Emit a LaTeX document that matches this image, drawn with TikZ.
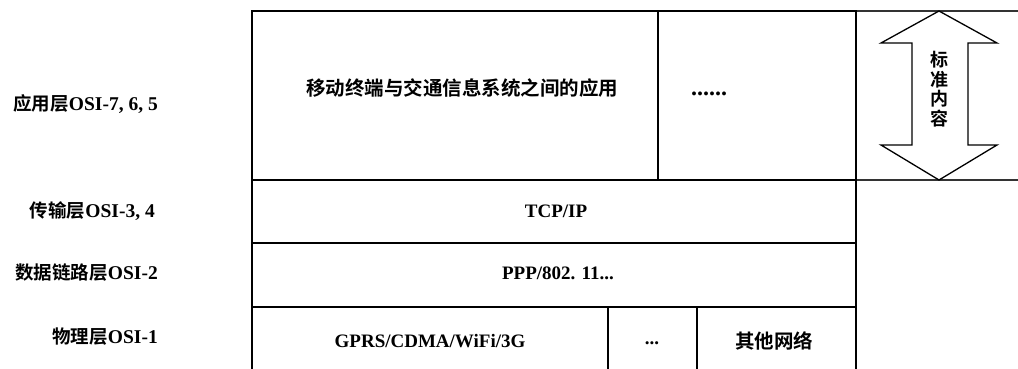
\documentclass[tikz,border=0pt]{standalone}
\usepackage{fontspec}
\setmainfont{Liberation Serif}
\newfontfamily\cjk{Noto Sans CJK SC}[BoldFont={Noto Sans CJK SC Bold}]
\begin{document}
\begin{tikzpicture}[x=1pt,y=-1pt,
  box/.style={draw=black,line width=2.8pt,inner sep=0pt,font=\bfseries\fontsize{19}{21}\selectfont},
  txt/.style={inner sep=0pt,font=\bfseries\fontsize{19}{21}\selectfont},
  lbl/.style={anchor=east,inner sep=0pt,font=\bfseries\fontsize{19.5}{21}\selectfont},
  thin/.style={draw=black!80,line width=1.3pt}]
\clip (0,0) rectangle (1018,369);
% right area
\draw[thin] (856,11) -- (1030,11);
\draw[thin] (856,180) -- (1030,180);
% boxes
\node[box,minimum width=406pt,minimum height=169pt] (app) at (455,95.5) {};
\node[txt,font=\cjk\bfseries\fontsize{19.5}{21}\selectfont] (appt) at (462,88) {移动终端与交通信息系统之间的应用};
\node[box,minimum width=198pt,minimum height=169pt] (etc) at (757,95.5) {};
\node[txt,font=\bfseries\fontsize{24}{26}\selectfont] (etct) at (709,94) {......};
\node[box,minimum width=604pt,minimum height=63pt] (tcp) at (554,211.5) {};
\node[txt] (tcpt) at (556,211) {TCP/IP};
\node[box,minimum width=604pt,minimum height=64pt] (ppp) at (554,275) {};
\node[txt] (pppt) at (558,273) {PPP/802. 11...};
\node[box,minimum width=356pt,minimum height=72pt] (gprs) at (430,343) {};
\node[txt] (gprst) at (430,341) {GPRS/CDMA/WiFi/3G};
\node[box,minimum width=89pt,minimum height=72pt] (more) at (652.5,343) {};
\node[txt] (moret) at (652,343) {...};
\node[box,minimum width=159pt,minimum height=72pt] (other) at (776.5,343) {};
\node[txt,font=\cjk\bfseries\fontsize{19.5}{21}\selectfont] (othert) at (774,341) {其他网络};
% double arrow
\draw[line width=1.3pt,line join=miter] (939,11) -- (997,43) -- (968,43) -- (968,145) -- (997,145) -- (939,180) -- (881,145) -- (912,145) -- (912,43) -- (881,43) -- cycle;
\node[align=center,inner sep=0pt,font=\cjk\bfseries\fontsize{18}{19.5}\selectfont] (std) at (939,89) {标\\准\\内\\容};
% left labels
\node[lbl] (l7) at (158,104) {{\cjk\fontsize{18.5}{20}\selectfont 应用层}OSI-7, 6, 5};
\node[lbl] (l3) at (155,211) {{\cjk\fontsize{18.5}{20}\selectfont 传输层}OSI-3, 4};
\node[lbl] (l2) at (158,273) {{\cjk\fontsize{18.5}{20}\selectfont 数据链路层}OSI-2};
\node[lbl] (l1) at (158,337) {{\cjk\fontsize{18.5}{20}\selectfont 物理层}OSI-1};
\end{tikzpicture}
\end{document}
